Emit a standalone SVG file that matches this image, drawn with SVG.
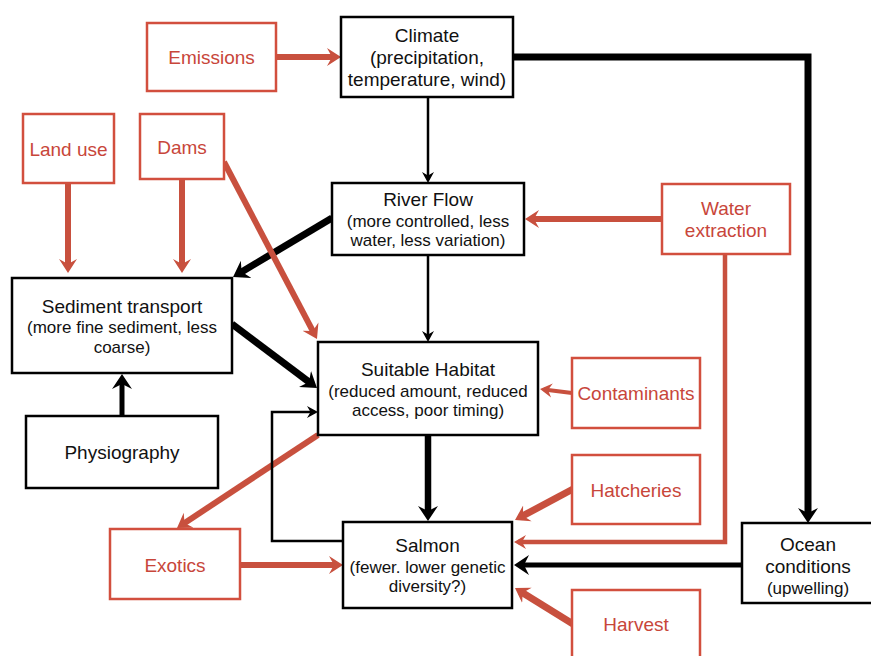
<svg xmlns="http://www.w3.org/2000/svg" width="871" height="656" viewBox="0 0 871 656">
<style>
  .bk { fill: #ffffff; stroke: #000000; stroke-width: 2.5; }
  .rd { fill: #ffffff; stroke: #d24f3e; stroke-width: 2.5; }
  text { font-family: "Liberation Sans", Arial, sans-serif; text-anchor: middle; }
  .t { font-size: 19px; fill: #111111; }
  .s { font-size: 17px; fill: #111111; }
  .rt { font-size: 19px; fill: #c8463a; }
  .cr { fill: none; stroke: #c8503e; }
  .ck { fill: none; stroke: #000000; }
</style>
<defs>
  <marker id="rb" markerUnits="userSpaceOnUse" viewBox="0 -10 16 20" markerWidth="16" markerHeight="20" refX="8" refY="0" orient="auto">
    <path d="M14,0 L0,-9 L5,0 L0,9 Z" fill="#c8503e"/>
  </marker>
  <marker id="rs" markerUnits="userSpaceOnUse" viewBox="0 -8 14 16" markerWidth="14" markerHeight="16" refX="8" refY="0" orient="auto">
    <path d="M12,0 L0,-7 L4,0 L0,7 Z" fill="#c8503e"/>
  </marker>
  <marker id="kb" markerUnits="userSpaceOnUse" viewBox="0 -11 17 22" markerWidth="17" markerHeight="22" refX="9" refY="0" orient="auto">
    <path d="M15,0 L0,-10 L5,0 L0,10 Z" fill="#000000"/>
  </marker>
  <marker id="kt" markerUnits="userSpaceOnUse" viewBox="0 -7 12 14" markerWidth="12" markerHeight="14" refX="8" refY="0" orient="auto">
    <path d="M11,0 L0,-6 L3.5,0 L0,6 Z" fill="#000000"/>
  </marker>
</defs>

<g id="connectors">
  <line class="cr" stroke-width="6" x1="276" y1="57" x2="335" y2="57" marker-end="url(#rb)"/>
  <path class="ck" stroke-width="7" d="M513,57 H808 V517" marker-end="url(#kb)"/>
  <line class="ck" stroke-width="2.5" x1="428" y1="97" x2="428" y2="180" marker-end="url(#kt)"/>
  <line class="cr" stroke-width="6" x1="662" y1="219" x2="531" y2="219" marker-end="url(#rb)"/>
  <path class="cr" stroke-width="4.5" d="M725,254 V542 H518" marker-end="url(#rs)"/>
  <line class="cr" stroke-width="6" x1="68" y1="183" x2="68" y2="267" marker-end="url(#rb)"/>
  <line class="cr" stroke-width="6" x1="182" y1="179" x2="182" y2="267" marker-end="url(#rb)"/>
  <line class="ck" stroke-width="7" x1="332" y1="218" x2="238.2" y2="273.9" marker-end="url(#kb)"/>
  <line class="cr" stroke-width="6" x1="224" y1="162" x2="314.2" y2="333.7" marker-end="url(#rb)"/>
  <line class="ck" stroke-width="7" x1="232" y1="324" x2="312.2" y2="384.4" marker-end="url(#kb)"/>
  <line class="ck" stroke-width="2.5" x1="428" y1="255" x2="428" y2="339" marker-end="url(#kt)"/>
  <line class="cr" stroke-width="4" x1="572" y1="393" x2="544" y2="389.5" marker-end="url(#rs)"/>
  <line class="ck" stroke-width="5" x1="122" y1="416" x2="122" y2="380" marker-end="url(#kb)"/>
  <line class="cr" stroke-width="6" x1="318" y1="435" x2="182" y2="524.7" marker-end="url(#rb)"/>
  <line class="cr" stroke-width="6" x1="240" y1="565" x2="337" y2="565" marker-end="url(#rb)"/>
  <path class="ck" stroke-width="2.5" d="M343,541 H272 V412 H315" marker-end="url(#kt)"/>
  <line class="ck" stroke-width="6.5" x1="428" y1="435" x2="428" y2="515" marker-end="url(#kb)"/>
  <line class="cr" stroke-width="7" x1="573" y1="489" x2="520.3" y2="517.2" marker-end="url(#rb)"/>
  <line class="ck" stroke-width="5" x1="742" y1="565" x2="520" y2="565" marker-end="url(#kb)"/>
  <line class="cr" stroke-width="7" x1="573" y1="624" x2="520.1" y2="591.2" marker-end="url(#rb)"/>
</g>

<g id="emissions">
  <rect class="rd" x="147" y="23" width="129" height="68"/>
  <text class="rt" x="211.5" y="64">Emissions</text>
</g>
<g id="climate">
  <rect class="bk" x="341" y="17" width="172" height="80"/>
  <text class="t" x="427" y="42">Climate</text>
  <text class="t" x="427" y="64">(precipitation,</text>
  <text class="t" x="427" y="86">temperature, wind)</text>
</g>
<g id="land-use">
  <rect class="rd" x="23" y="114" width="91" height="69"/>
  <text class="rt" x="68.5" y="156">Land use</text>
</g>
<g id="dams">
  <rect class="rd" x="140" y="114" width="84" height="65"/>
  <text class="rt" x="182" y="154">Dams</text>
</g>
<g id="river-flow">
  <rect class="bk" x="332" y="183" width="192" height="72"/>
  <text class="t" x="428" y="206">River Flow</text>
  <text class="s" x="428" y="227">(more controlled, less</text>
  <text class="s" x="428" y="246">water, less variation)</text>
</g>
<g id="water-extraction">
  <rect class="rd" x="662" y="184" width="128" height="70"/>
  <text class="rt" x="726" y="215">Water</text>
  <text class="rt" x="726" y="237">extraction</text>
</g>
<g id="sediment-transport">
  <rect class="bk" x="12" y="278" width="220" height="95"/>
  <text class="t" x="122" y="313">Sediment transport</text>
  <text class="s" x="122" y="333">(more fine sediment, less</text>
  <text class="s" x="122" y="353">coarse)</text>
</g>
<g id="suitable-habitat">
  <rect class="bk" x="318" y="342" width="220" height="93"/>
  <text class="t" x="428" y="376">Suitable Habitat</text>
  <text class="s" x="428" y="397">(reduced amount, reduced</text>
  <text class="s" x="428" y="416">access, poor timing)</text>
</g>
<g id="contaminants">
  <rect class="rd" x="572" y="358" width="128" height="70"/>
  <text class="rt" x="636" y="400">Contaminants</text>
</g>
<g id="physiography">
  <rect class="bk" x="26" y="416" width="192" height="72"/>
  <text class="t" x="122" y="459">Physiography</text>
</g>
<g id="hatcheries">
  <rect class="rd" x="572" y="455" width="128" height="69"/>
  <text class="rt" x="636" y="497">Hatcheries</text>
</g>
<g id="exotics">
  <rect class="rd" x="110" y="529" width="130" height="70"/>
  <text class="rt" x="175" y="572">Exotics</text>
</g>
<g id="salmon">
  <rect class="bk" x="343" y="522" width="169" height="86"/>
  <text class="t" x="427.5" y="552">Salmon</text>
  <text class="s" x="427.5" y="573">(fewer. lower genetic</text>
  <text class="s" x="427.5" y="592">diversity?)</text>
</g>
<g id="ocean-conditions">
  <rect class="bk" x="742" y="523" width="134" height="80"/>
  <text class="t" x="808" y="551">Ocean</text>
  <text class="t" x="808" y="573">conditions</text>
  <text class="s" x="808" y="594">(upwelling)</text>
</g>
<g id="harvest">
  <rect class="rd" x="572" y="590" width="128" height="72"/>
  <text class="rt" x="636" y="631">Harvest</text>
</g>
</svg>
